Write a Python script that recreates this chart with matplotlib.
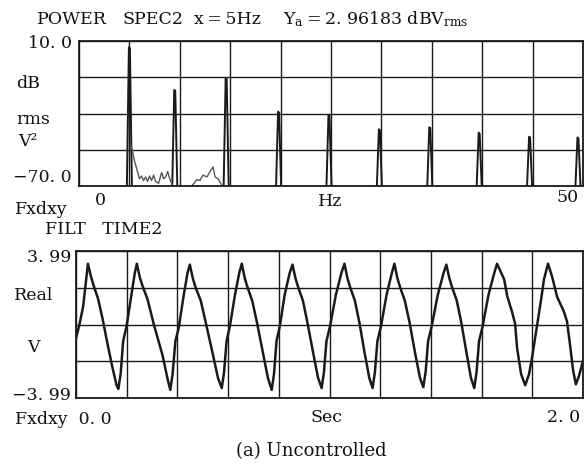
import numpy as np
import matplotlib.pyplot as plt

plt.rcParams['font.family'] = ['DejaVu Serif']
plt.rcParams['mathtext.fontset'] = 'dejavuserif'

# spectrum: harmonic peaks (Hz, dB)
peak_freq = [5.0, 9.5, 14.6, 19.8, 24.8, 29.8, 34.8, 39.7, 44.7, 49.5]
peak_db = [6.5, -17.0, -10.4, -29.0, -30.8, -38.7, -37.6, -40.6, -42.8, -43.2]

# low level noise between the first peaks
noise1_freq = [5.2, 5.5, 5.8, 6.0, 6.2, 6.4, 6.6, 6.8, 7.0, 7.2, 7.4, 7.6, 7.9, 8.2, 8.4, 8.6, 8.8, 9.0, 9.3]
noise1_db = [-48, -56, -62, -66, -64.5, -67, -65, -67.5, -64.5, -67, -64, -67.5, -68.5, -62.5, -66, -65, -62, -66, -70]
noise2_freq = [11.2, 11.7, 12.0, 12.3, 12.7, 13.0, 13.3, 13.5, 13.8, 14.2]
noise2_db = [-70, -66.5, -67, -64, -65, -62, -59.5, -65, -66, -70]

# filtered time signal (s, V)
wave_t = [0.000, 0.012, 0.028, 0.039, 0.047,
          0.059, 0.070, 0.087, 0.105, 0.125, 0.144, 0.160, 0.167, 0.176, 0.186, 0.200, 0.220, 0.232, 0.240,
          0.252, 0.263, 0.282, 0.308, 0.341, 0.362, 0.372, 0.381, 0.392, 0.405, 0.425, 0.440, 0.449,
          0.461, 0.472, 0.492, 0.512, 0.538, 0.560, 0.575, 0.584, 0.594, 0.607, 0.627, 0.644, 0.654,
          0.666, 0.677, 0.695, 0.714, 0.737, 0.757, 0.772, 0.781, 0.791, 0.804, 0.823, 0.843, 0.854,
          0.866, 0.877, 0.895, 0.913, 0.935, 0.955, 0.969, 0.978, 0.988, 1.002, 1.025, 1.047, 1.059,
          1.071, 1.082, 1.100, 1.118, 1.138, 1.157, 1.170, 1.179, 1.189, 1.203, 1.225, 1.246, 1.256,
          1.268, 1.279, 1.297, 1.316, 1.337, 1.357, 1.370, 1.379, 1.389, 1.403, 1.427, 1.450, 1.461,
          1.473, 1.484, 1.502, 1.520, 1.540, 1.558, 1.571, 1.580, 1.590, 1.604, 1.627, 1.650, 1.661,
          1.689, 1.701, 1.720, 1.732, 1.740, 1.756, 1.772, 1.787, 1.799, 1.815, 1.835, 1.846, 1.862,
          1.878, 1.898, 1.925, 1.937, 1.949, 1.961, 1.972, 1.984, 2.000]
wave_v = [-0.74, -0.1, 0.96, 2.29, 3.3,
          2.6, 2.1, 1.4, 0.3, -1.1, -2.35, -3.3, -3.5, -2.7, -0.9, -0.05, 1.75, 2.8, 3.3,
          2.55, 2.07, 1.38, -0.05, -1.65, -3.0, -3.55, -2.7, -0.9, -0.2, 1.6, 2.8, 3.25,
          2.5, 2.0, 1.3, 0.1, -1.5, -2.9, -3.45, -2.6, -0.9, -0.1, 1.6, 2.8, 3.3,
          2.5, 2.0, 1.3, 0.1, -1.5, -2.9, -3.55, -2.7, -0.9, -0.1, 1.6, 2.8, 3.25,
          2.5, 2.0, 1.3, 0.1, -1.5, -2.9, -3.45, -2.6, -0.9, -0.1, 1.6, 2.8, 3.3,
          2.5, 2.0, 1.3, 0.1, -1.5, -2.9, -3.45, -2.6, -0.9, -0.1, 1.6, 2.8, 3.3,
          2.5, 2.0, 1.3, 0.1, -1.5, -2.9, -3.4, -2.6, -0.9, -0.1, 1.6, 2.8, 3.25,
          2.5, 2.0, 1.3, 0.1, -1.5, -2.9, -3.45, -2.6, -0.9, -0.1, 1.6, 2.8, 3.3,
          2.45, 1.54, 0.69, 0.05, -1.28, -2.7, -3.3, -2.7, -1.8, -0.37, 1.38, 2.45, 3.3,
          2.6, 1.5, 0.69, 0.16, -1.12, -2.5, -3.25, -2.8, -1.97]

W, H = 584, 467
fig = plt.figure(figsize=(W / 100, H / 100), dpi=100)


def px_axes(left, top, right, bottom):
    return fig.add_axes([left / W, 1 - bottom / H, (right - left) / W, (bottom - top) / H])


def label(x, y, s, ha='left', size=12.5):
    fig.text(x / W, 1 - y / H, s, ha=ha, va='center', fontsize=size, color='#111')


ink = '#1a1a1a'

# --- power spectrum ---
ax1 = px_axes(79, 41, 583, 186)
for f, L in zip(peak_freq, peak_db):
    ax1.plot([f - 0.25, f - 0.05, f + 0.05, f + 0.25], [-70, L, L - 0.5, -70], color=ink, lw=1.4)
ax1.plot(noise1_freq, noise1_db, color='#555', lw=1.0)
ax1.plot(noise2_freq, noise2_db, color='#555', lw=1.0)
ax1.set_xlim(0, 50)
ax1.set_ylim(-70, 10)
ax1.set_xticks(np.linspace(0, 50, 11))
ax1.set_yticks(np.linspace(-70, 10, 5))

# --- filtered time signal ---
ax2 = px_axes(76, 251, 583, 398)
ax2.plot(wave_t, wave_v, color=ink, lw=1.8)
ax2.set_xlim(0, 2)
ax2.set_ylim(-3.99, 3.99)
ax2.set_xticks(np.linspace(0, 2, 11))
ax2.set_yticks(np.linspace(-3.99, 3.99, 5))

for ax in (ax1, ax2):
    ax.grid(True, color=ink, lw=1.0)
    ax.tick_params(length=0, labelbottom=False, labelleft=False)
    for sp in ax.spines.values():
        sp.set_color(ink)
        sp.set_linewidth(1.3)

# texts
label(37, 19, 'POWER')
label(123, 19, 'SPEC2')
label(194, 19, 'x\u2009=\u20095Hz')
label(283, 19, 'Y$_\\mathrm{a}$\u2009=\u20092. 96183 dBV$_{\\mathrm{rms}}$')
label(72, 44, '10. 0', ha='right')
label(16, 83, 'dB')
label(16, 120, 'rms')
label(18, 141, 'V²')
label(72, 178, '−70. 0', ha='right')
label(95, 201, '0')
label(15, 209, 'Fxdxy')
label(330, 202, 'Hz', ha='center')
label(568, 198, '50', ha='center')

label(45, 230, 'FILT   TIME2')
label(71, 257, '3. 99', ha='right')
label(14, 296, 'Real')
label(27, 347, 'V')
label(71, 395, '−3. 99', ha='right')
label(15, 419, 'Fxdxy  0. 0')
label(327, 417, 'Sec', ha='center')
label(564, 417, '2. 0', ha='center')

label(311, 451, '(a) Uncontrolled', ha='center', size=13)

fig.savefig('out.png', dpi=100, facecolor='white')
